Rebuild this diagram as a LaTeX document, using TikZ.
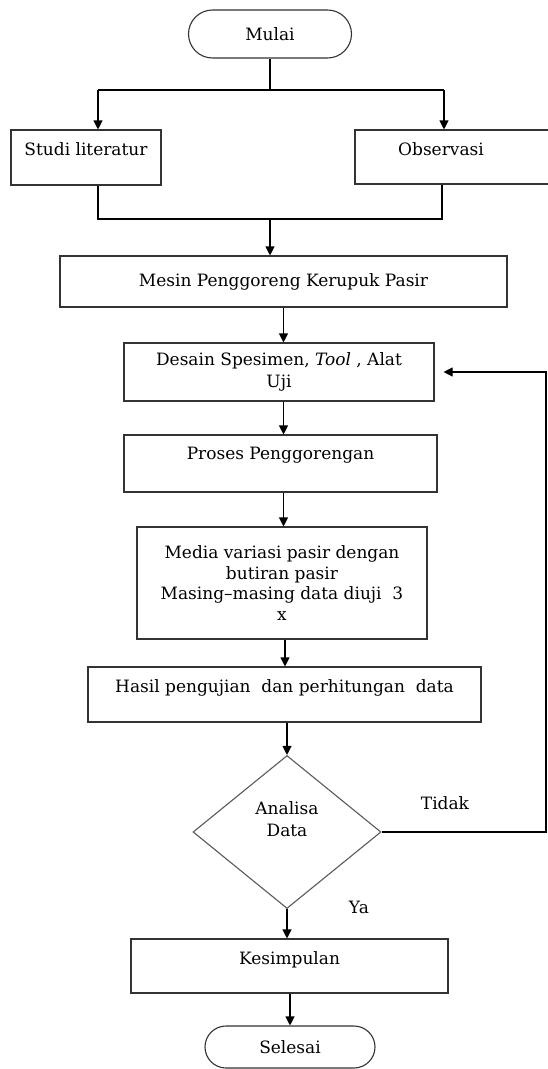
\documentclass[tikz,border=0pt]{standalone}
\usepackage{fontspec}
\setmainfont{DejaVu Serif}
\usepackage{xcolor}
\usepackage{tikz}
\usetikzlibrary{arrows.meta, shapes.geometric}

\tikzset{
	box/.style={draw=black!80, rectangle, align=center, inner sep=3pt},
	toptext/.style={text depth=16pt},
	terminal/.style={draw=black!80, rectangle, rounded corners=21pt, minimum height=44pt},
	decision/.style={draw=black!65, diamond, inner sep=0pt}
}

\begin{document}
\begin{tikzpicture}[x=1pt, y=1pt,
			>={Triangle[length=9pt, width=9pt]},
			line width=1.1pt,
			font=\fontsize{17}{21.5}\selectfont]

			\useasboundingbox (0,0) rectangle (547,-1069);

			% start and the two branches
			\node[terminal, minimum width=163pt, minimum height=48pt, rounded corners=24pt] (mulai) at (270,-34) {Mulai};
			\node[box, toptext, minimum width=150pt, minimum height=55pt] (studi) at (86,-157.5) {Studi literatur};
			\node[box, minimum width=196pt, minimum height=54pt,
				label={[xshift=-12pt, yshift=7.5pt]center:Observasi}] (obs) at (453,-157) {};

			\coordinate (split) at (270,-90);
			\coordinate (sl) at (98,-90);
			\coordinate (sr) at (444,-90);
			\coordinate (jl) at (98,-219);
			\coordinate (jr) at (442,-219);
			\coordinate (join) at (270,-219);

			\draw (mulai.south) -- (split);
			\draw (sl) -- (sr);
			\draw[->] (sl) -- (sl |- studi.north);
			\draw[->] (sr) -- (sr |- obs.north);
			\draw (jl |- studi.south) -- (jl) -- (jr) -- (jr |- obs.south);

			% main column
			\node[box, minimum width=447pt, minimum height=51pt] (mesin) at (283.5,-281.5) {Mesin Penggoreng Kerupuk Pasir};
			\node[box, minimum width=310pt, minimum height=58pt] (desain) at (279,-372) {Desain Spesimen, \textit{Tool} , Alat\\Uji};
			\node[box, text depth=21pt, minimum width=313pt, minimum height=57pt] (proses) at (280.5,-463.5) {Proses Penggorengan};
			\node[box, minimum width=290pt, minimum height=112pt, font=\fontsize{17}{20.7}\selectfont] (media) at (282,-583) {Media variasi pasir dengan\\butiran pasir\\Masing--masing data diuji\ \ 3\\x};
			\node[box, toptext, minimum width=393pt, minimum height=55pt] (hasil) at (284.5,-694.5) {Hasil pengujian\ \ dan perhitungan\ \ data};
			\node[decision, minimum width=188pt, minimum height=153pt,
				label={[align=center, yshift=13pt]center:Analisa\\Data}] (analisa) at (287,-832) {};
			\node[box, toptext, minimum width=317pt, minimum height=54pt] (kesimpulan) at (289.5,-966) {Kesimpulan};
			\node[terminal, minimum width=170pt, minimum height=42pt] (selesai) at (290,-1047) {Selesai};

			\coordinate (m1) at (285,0);

			\draw[->] (join) -- (join |- mesin.north);
			\draw[->] (mesin.south) -- (mesin.south |- desain.north);
			\draw[->] (desain.south -| mesin.south) -- (proses.north -| mesin.south);
			\draw[->] (proses.south -| mesin.south) -- (media.north -| mesin.south);
			\draw[->] (media.south -| m1) -- (hasil.north -| m1);
			\draw[->] (hasil.south -| analisa.north) -- (analisa.north);
			\draw[->] (analisa.south) -- (kesimpulan.north -| analisa.south);
			\draw[->] (kesimpulan.south -| selesai.north) -- (selesai.north);

			% loop back
			\coordinate (back) at (546,-832);
			\draw[->, shorten >=9pt] (analisa.east) -- (back) |- (desain.east);
			\node (tidak) at (445,-803) {Tidak};
			\node (ya) at (359,-907) {Ya};
		\end{tikzpicture}
\end{document}
